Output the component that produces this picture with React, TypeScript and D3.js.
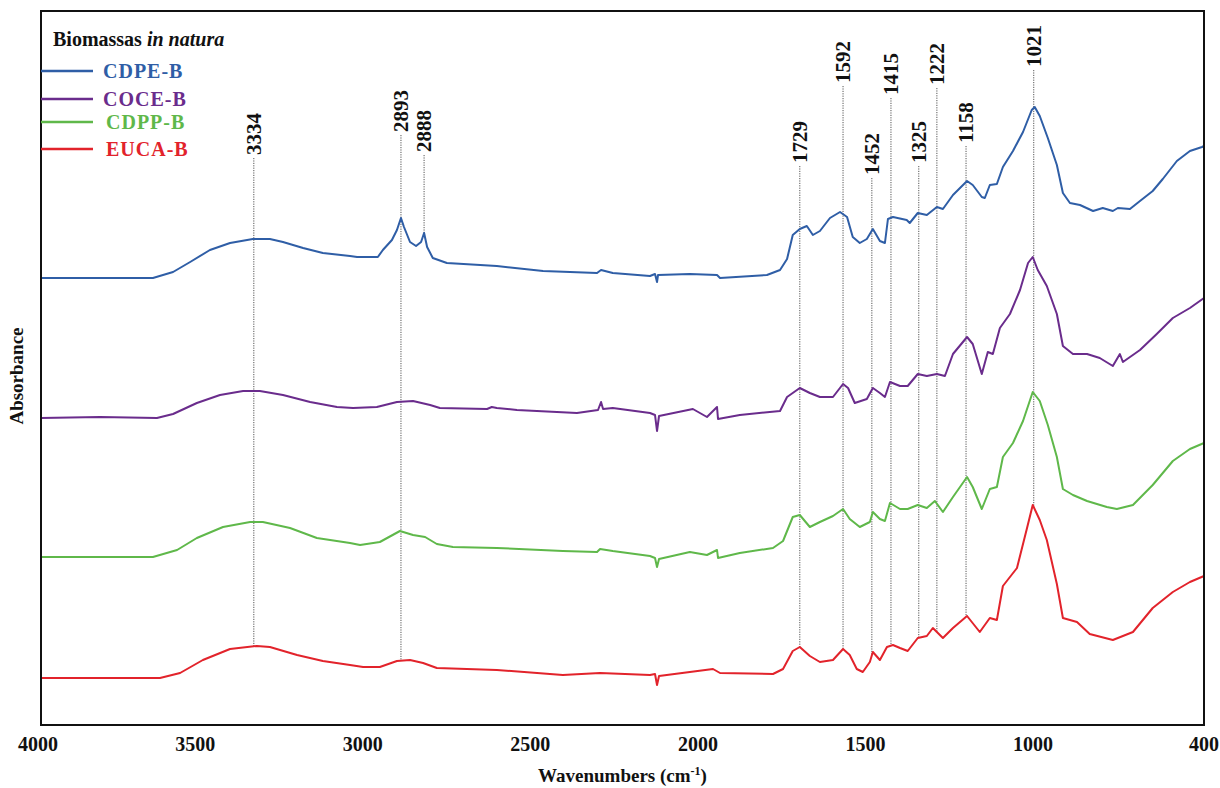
import React from "react";
import * as d3 from "d3";

// ---- data: [wavenumber (cm-1), absorbance (offset, a.u.)] ----
const seriesNames = ["CDPE-B", "COCE-B", "CDPP-B", "EUCA-B"];
const seriesColors = ["#2f5ea6", "#6a2c8c", "#5fb84a", "#e2232b"];

const cdpeB: [number, number][] = [
  [3960, 4.47], [3626, 4.47], [3566, 4.53], [3515, 4.63], [3456, 4.75], [3396, 4.82], [3328, 4.86], [3277, 4.86],
  [3238, 4.83], [3178, 4.77], [3119, 4.72], [3038, 4.69], [3017, 4.68], [2955, 4.68], [2940, 4.75], [2913, 4.85],
  [2898, 4.95], [2886, 5.07], [2877, 4.98], [2859, 4.83], [2841, 4.79], [2826, 4.83], [2817, 4.92], [2808, 4.78],
  [2791, 4.67], [2749, 4.62], [2600, 4.59], [2462, 4.54], [2301, 4.52], [2289, 4.55], [2254, 4.52], [2143, 4.49],
  [2128, 4.51], [2122, 4.43], [2119, 4.50], [2024, 4.51], [1943, 4.50], [1934, 4.47], [1794, 4.50], [1755, 4.55],
  [1734, 4.66], [1717, 4.90], [1696, 4.96], [1675, 4.99], [1657, 4.90], [1636, 4.94], [1606, 5.07], [1576, 5.13],
  [1555, 5.08], [1538, 4.88], [1517, 4.82], [1496, 4.86], [1478, 4.96], [1457, 4.84], [1442, 4.82], [1433, 5.06],
  [1418, 5.08], [1377, 5.05], [1368, 5.02], [1344, 5.12], [1317, 5.10], [1287, 5.18], [1269, 5.16], [1239, 5.30],
  [1197, 5.44], [1180, 5.40], [1153, 5.28], [1144, 5.27], [1129, 5.40], [1108, 5.41], [1090, 5.58], [1060, 5.74],
  [1030, 5.93], [1004, 6.15], [995, 6.18], [980, 6.09], [956, 5.87], [929, 5.60], [911, 5.32], [890, 5.22],
  [860, 5.20], [821, 5.14], [792, 5.17], [762, 5.14], [747, 5.17], [711, 5.16], [681, 5.24], [643, 5.34],
  [613, 5.46], [571, 5.64], [532, 5.74], [496, 5.78], [490, 5.79],
];

const coceB: [number, number][] = [
  [3960, 3.07], [3784, 3.08], [3614, 3.07], [3566, 3.11], [3495, 3.22], [3426, 3.30], [3357, 3.34], [3307, 3.34],
  [3238, 3.30], [3157, 3.23], [3077, 3.18], [3029, 3.17], [2958, 3.18], [2898, 3.23], [2850, 3.24], [2799, 3.20],
  [2770, 3.17], [2629, 3.16], [2615, 3.18], [2600, 3.17], [2540, 3.15], [2361, 3.12], [2298, 3.15], [2289, 3.23],
  [2283, 3.16], [2254, 3.17], [2143, 3.12], [2128, 3.10], [2122, 2.94], [2116, 3.09], [2015, 3.16], [1973, 3.08],
  [1943, 3.18], [1940, 3.06], [1875, 3.10], [1755, 3.14], [1734, 3.28], [1696, 3.37], [1666, 3.32], [1636, 3.28],
  [1597, 3.28], [1567, 3.41], [1552, 3.37], [1532, 3.22], [1496, 3.26], [1478, 3.37], [1457, 3.32], [1442, 3.28],
  [1427, 3.43], [1397, 3.39], [1374, 3.39], [1344, 3.51], [1317, 3.49], [1287, 3.51], [1263, 3.49], [1239, 3.71],
  [1197, 3.88], [1180, 3.81], [1153, 3.51], [1135, 3.73], [1120, 3.71], [1099, 3.97], [1069, 4.11], [1039, 4.35],
  [1015, 4.62], [1001, 4.68], [986, 4.55], [959, 4.39], [929, 4.11], [911, 3.79], [881, 3.71], [839, 3.71],
  [801, 3.67], [762, 3.59], [741, 3.71], [732, 3.63], [681, 3.75], [631, 3.91], [583, 4.07], [532, 4.17], [490, 4.27],
];

const cdppB: [number, number][] = [
  [3960, 1.68], [3626, 1.68], [3554, 1.75], [3495, 1.87], [3417, 1.98], [3336, 2.03], [3298, 2.03], [3217, 1.97],
  [3137, 1.87], [3038, 1.82], [3008, 1.80], [2949, 1.83], [2889, 1.94], [2850, 1.90], [2814, 1.88], [2779, 1.81],
  [2731, 1.78], [2600, 1.77], [2403, 1.74], [2301, 1.73], [2292, 1.76], [2254, 1.74], [2143, 1.69], [2128, 1.67],
  [2122, 1.58], [2116, 1.66], [2024, 1.73], [1973, 1.70], [1943, 1.75], [1940, 1.67], [1875, 1.72], [1776, 1.77],
  [1746, 1.84], [1717, 2.08], [1696, 2.10], [1666, 1.98], [1636, 2.03], [1597, 2.09], [1567, 2.16], [1547, 2.06],
  [1517, 1.98], [1487, 2.03], [1478, 2.13], [1457, 2.06], [1442, 2.04], [1427, 2.22], [1397, 2.16], [1374, 2.16],
  [1344, 2.20], [1317, 2.17], [1293, 2.24], [1269, 2.13], [1239, 2.28], [1197, 2.48], [1180, 2.38], [1153, 2.16],
  [1129, 2.36], [1108, 2.38], [1090, 2.68], [1060, 2.82], [1030, 3.04], [1001, 3.33], [980, 3.24], [956, 3.00],
  [929, 2.68], [911, 2.36], [881, 2.30], [839, 2.24], [780, 2.18], [750, 2.16], [702, 2.20], [643, 2.40],
  [583, 2.64], [532, 2.76], [490, 2.82],
];

const eucaB: [number, number][] = [
  [3960, 0.47], [3605, 0.47], [3545, 0.52], [3477, 0.65], [3396, 0.76], [3316, 0.79], [3277, 0.78], [3196, 0.70],
  [3119, 0.64], [3038, 0.60], [2999, 0.58], [2949, 0.58], [2898, 0.64], [2859, 0.65], [2820, 0.62], [2779, 0.57],
  [2600, 0.55], [2403, 0.50], [2292, 0.52], [2143, 0.50], [2128, 0.51], [2122, 0.40], [2116, 0.49], [2024, 0.53],
  [1955, 0.56], [1934, 0.52], [1776, 0.51], [1746, 0.56], [1717, 0.74], [1696, 0.78], [1666, 0.69], [1636, 0.63],
  [1597, 0.65], [1567, 0.76], [1547, 0.70], [1526, 0.56], [1508, 0.53], [1487, 0.63], [1478, 0.73], [1457, 0.65],
  [1436, 0.78], [1418, 0.80], [1397, 0.77], [1374, 0.74], [1344, 0.87], [1317, 0.89], [1299, 0.97], [1269, 0.87],
  [1239, 0.97], [1197, 1.09], [1159, 0.93], [1129, 1.07], [1108, 1.05], [1090, 1.39], [1048, 1.57], [1018, 1.97],
  [1001, 2.20], [980, 2.05], [959, 1.85], [929, 1.41], [911, 1.07], [869, 1.03], [831, 0.91], [762, 0.85],
  [702, 0.93], [643, 1.17], [583, 1.33], [532, 1.43], [490, 1.49],
];

const allSeries = [cdpeB, coceB, cdppB, eucaB];

// axis
const xDomain: [number, number] = [3960, 490];
const yDomain: [number, number] = [0, 7.14];
const xTickValues = [3960, 3500, 3000, 2500, 2000, 1500, 1000, 490];
const xTickLabels = ["4000", "3500", "3000", "2500", "2000", "1500", "1000", "400"];

// peak annotations
const peakLabels = ["3334", "2893", "2888", "1729", "1592", "1452", "1415", "1325", "1222", "1158", "1021"];
const peakAt = [3325, 2886, 2817, 1696, 1567, 1481, 1424, 1341, 1287, 1200, 998];
const peakReach = [3, 3, 0, 3, 3, 3, 3, 3, 3, 3, 3]; // index of series the marker line reaches
const peakLabelBase = [5.70, 5.93, 5.73, 5.62, 6.42, 5.50, 6.30, 5.62, 6.40, 5.82, 6.58]; // level where label starts

function valueAt(s: [number, number][], w: number): number {
  for (let i = 0; i < s.length - 1; i++) {
    const [w0, v0] = s[i];
    const [w1, v1] = s[i + 1];
    if ((w <= w0 && w >= w1) || (w >= w0 && w <= w1)) {
      const t = w1 === w0 ? 0 : (w - w0) / (w1 - w0);
      return v0 + t * (v1 - v0);
    }
  }
  return s[s.length - 1][1];
}

const FONT = "'Liberation Serif', 'Times New Roman', serif";

export default function App() {
  const W = 1220, H = 788;
  const left = 41, right = 1204, top = 11, bottom = 725;
  const x = d3.scaleLinear().domain(xDomain).range([left, right]);
  const y = d3.scaleLinear().domain(yDomain).range([bottom, top]);
  const line = d3
    .line<[number, number]>()
    .x((d) => x(d[0]))
    .y((d) => y(d[1]));

  return (
    <svg
      width={W}
      height={H}
      style={{ position: "absolute", left: 0, top: 0, background: "#fff" }}
      fontFamily={FONT}
    >
      <rect x={0} y={0} width={W} height={H} fill="#fff" />

      {/* peak marker lines */}
      {peakLabels.map((lab, i) => {
        const px = x(peakAt[i]);
        const yLab = y(peakLabelBase[i]);
        const yEnd = y(valueAt(allSeries[peakReach[i]], peakAt[i]));
        return (
          <g key={lab}>
            <line
              x1={px}
              x2={px}
              y1={yLab + 3}
              y2={yEnd}
              stroke="#555"
              strokeWidth={1}
              strokeDasharray="1.2 1.2"
            />
            <text
              transform={`translate(${px},${yLab}) rotate(-90)`}
              textAnchor="start"
              dy="0.34em"
              fontSize={21}
              fontWeight="bold"
              fill="#111"
            >
              {lab}
            </text>
          </g>
        );
      })}

      {/* spectra */}
      {allSeries.map((s, i) => (
        <path key={seriesNames[i]} d={line(s) || ""} fill="none" stroke={seriesColors[i]} strokeWidth={2} strokeLinejoin="round" />
      ))}

      {/* frame */}
      <rect x={left} y={top} width={right - left} height={bottom - top} fill="none" stroke="#111" strokeWidth={2} />

      {/* x tick labels */}
      {xTickValues.map((v, i) => (
        <text
          key={v}
          x={x(v) + (i === 0 ? -3 : 0)}
          y={bottom + 26}
          textAnchor="middle"
          fontSize={20}
          fontWeight="bold"
          fill="#111"
        >
          {xTickLabels[i]}
        </text>
      ))}

      <text x={(left + right) / 2} y={bottom + 57} textAnchor="middle" fontSize={19} fontWeight="bold" fill="#111">
        Wavenumbers (cm
        <tspan dy={-7} fontSize={12}>-1</tspan>
        <tspan dy={7}>)</tspan>
      </text>

      <text
        transform={`translate(23,${(top + bottom) / 2 + 8}) rotate(-90)`}
        textAnchor="middle"
        fontSize={19}
        fontWeight="bold"
        fill="#111"
      >
        Absorbance
      </text>

      {/* legend */}
      <text x={53} y={46} fontSize={20} fontWeight="bold" fill="#111">
        Biomassas <tspan fontStyle="italic">in natura</tspan>
      </text>
      {seriesNames.map((n, i) => {
        const ly = 71 + [0, 28, 51, 78][i];
        return (
          <g key={n}>
            <line x1={left} x2={93} y1={ly} y2={ly} stroke={seriesColors[i]} strokeWidth={2.5} />
            <text x={i < 2 ? 103 : 106} y={ly + 7} fontSize={20} fontWeight="bold" fill={seriesColors[i]} letterSpacing={1}>
              {n}
            </text>
          </g>
        );
      })}
    </svg>
  );
}
